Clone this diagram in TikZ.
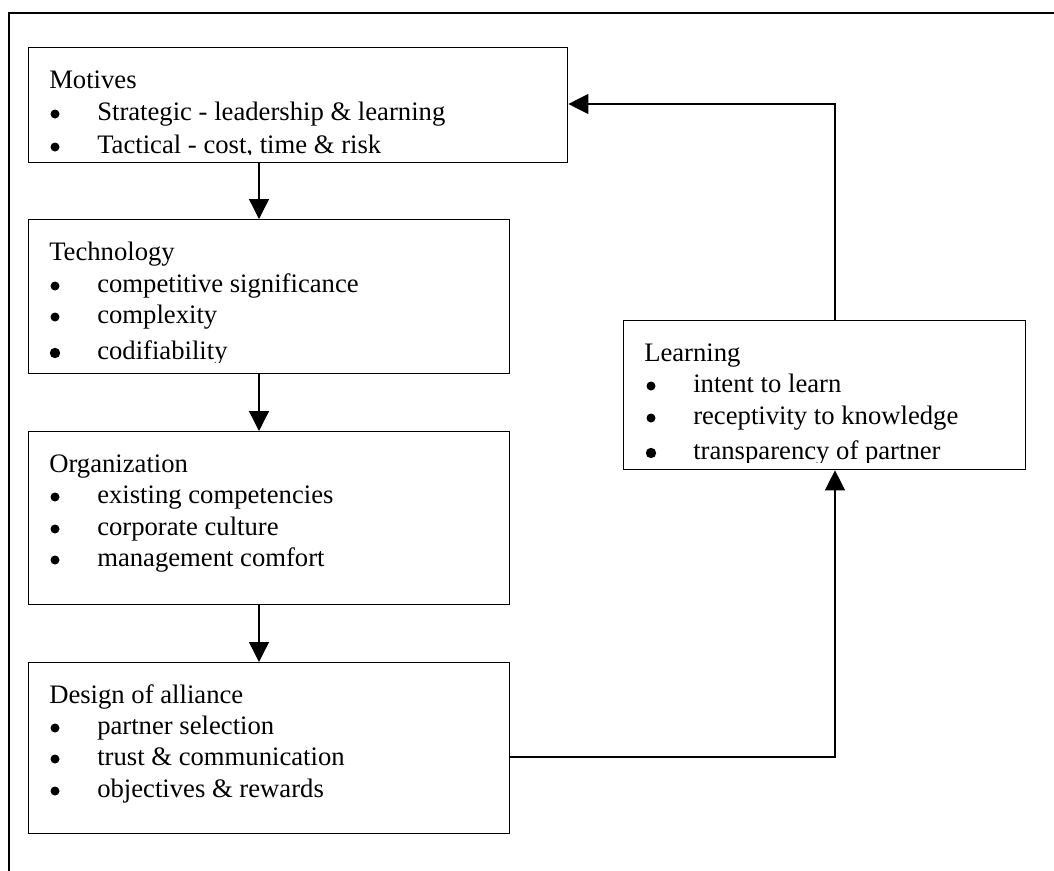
\documentclass[tikz,border=0pt]{standalone}
\usepackage{fontspec}
\setmainfont{Liberation Serif}
\usetikzlibrary{arrows.meta}
\begin{document}
\begin{tikzpicture}[x=0.75pt,y=-0.75pt,
  box/.style={draw,line width=1pt,inner sep=0pt,anchor=north west},
  txt/.style={anchor=base west,inner sep=0pt,font=\fontsize{20}{24}\selectfont},
  arr/.style={line width=1pt,-{Triangle[length=15pt,width=15pt]}},
  bul/.style={fill=black}]
\useasboundingbox (0,0) rectangle (1054,871);
% outer frame
\draw[line width=1.5pt] (1054,13) -- (9,13) -- (9,871);
% boxes
\node[box,minimum width=404.25pt,minimum height=86.25pt] (motives) at (28,47) {};
\node[box,minimum width=360.75pt,minimum height=115.5pt] (tech) at (28,219) {};
\node[box,minimum width=360.75pt,minimum height=129.75pt] (org) at (28,431) {};
\node[box,minimum width=360.75pt,minimum height=128.25pt] (design) at (28,662) {};
\node[box,minimum width=301.5pt,minimum height=111.75pt] (learning) at (623,320) {};
% Motives text
\begin{scope}
\clip (28,47) rectangle (567,154);
\node[txt] (m0) at (49,88) {Motives};
\fill[bul] (55,114) circle (4.5);
\node[txt] (m1) at (97,120) {Strategic - leadership \& learning};
\fill[bul] (55,147) circle (4.5);
\node[txt] (m2) at (97,153) {Tactical - cost, time \& risk};
\end{scope}
% Technology text
\begin{scope}
\clip (28,219) rectangle (509,362);
\node[txt] (t0) at (49,260) {Technology};
\fill[bul] (55,286) circle (4.5);
\node[txt] (t1) at (97,292) {competitive significance};
\fill[bul] (55,317) circle (4.5);
\node[txt] (t2) at (97,323) {complexity};
\fill[bul] (55,353) circle (5.2);
\node[txt] (t3) at (97,359) {codifiability};
\end{scope}
% Organization text
\node[txt] (o0) at (49,472) {Organization};
\fill[bul] (55,497) circle (4.5);
\node[txt] (o1) at (97,503) {existing competencies};
\fill[bul] (55,529) circle (4.5);
\node[txt] (o2) at (97,535) {corporate culture};
\fill[bul] (55,560) circle (4.5);
\node[txt] (o3) at (97,566) {management comfort};
% Design text
\node[txt] (d0) at (49,703) {Design of alliance};
\fill[bul] (55,728) circle (4.5);
\node[txt] (d1) at (97,734) {partner selection};
\fill[bul] (55,759) circle (4.5);
\node[txt] (d2) at (97,765) {trust \& communication};
\fill[bul] (55,791) circle (4.5);
\node[txt] (d3) at (97,797) {objectives \& rewards};
% Learning text
\begin{scope}
\clip (623,320) rectangle (1025,462);
\node[txt] (l0) at (644,361) {Learning};
\fill[bul] (651,386) circle (4.5);
\node[txt] (l1) at (693,392) {intent to learn};
\fill[bul] (651,418) circle (4.5);
\node[txt] (l2) at (693,424) {receptivity to knowledge};
\fill[bul] (651,453) circle (5.2);
\node[txt] (l3) at (693,459) {transparency of partner};
\end{scope}
% connectors
\coordinate (ax) at (259,0);
\coordinate (rx) at (835,0);
\coordinate (ly) at (0,757);
\coordinate (my) at (0,104);
\draw[arr] (motives.south -| ax) -- (tech.north -| ax);
\draw[arr] (tech.south -| ax) -- (org.north -| ax);
\draw[arr] (org.south -| ax) -- (design.north -| ax);
\draw[arr] (design.east |- ly) -| (learning.south -| rx);
\draw[arr] (learning.north -| rx) |- (motives.east |- my);
\end{tikzpicture}
\end{document}
